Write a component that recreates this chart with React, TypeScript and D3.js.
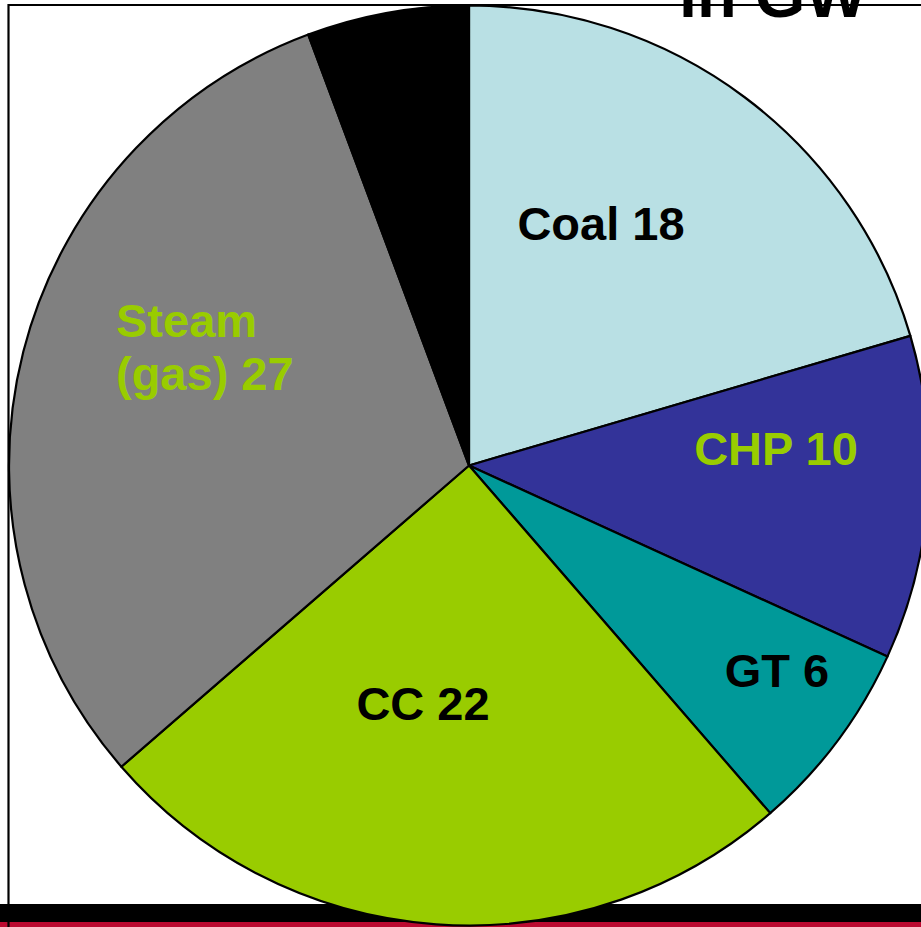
import React, { useEffect } from "react";
import * as d3 from "d3";

const categories = ["Coal", "CHP", "GT", "CC", "Steam (gas)", "Other"];
const values = [18, 10, 6, 22, 27, 5];
const colors = ["#B9E0E4", "#333399", "#009999", "#99CC00", "#808080", "#000000"];
const labelLines = [["Coal 18"], ["CHP 10"], ["GT 6"], ["CC 22"], ["Steam", "(gas) 27"], []];
const labelColors = ["#000000", "#99CC00", "#000000", "#000000", "#99CC00", "#000000"];
const labelPos: [number, number, string][] = [
  [601, 240, "middle"],
  [776, 465, "middle"],
  [777, 687, "middle"],
  [423, 720, "middle"],
  [116, 337, "start"],
  [0, 0, "middle"],
];
const title = "in GW";

export default function App() {
  useEffect(() => {
    document.body.style.margin = "0";
    document.body.style.overflow = "hidden";
  }, []);
  const W = 921, H = 927;
  const cx = 469, cy = 465.5, r = 460;
  const pie = d3.pie<number>().sort(null).value((d) => d);
  const arcs = pie(values);
  const arcGen = d3.arc<d3.PieArcDatum<number>>().innerRadius(0).outerRadius(r);
  const font = "'Liberation Sans', Arial, sans-serif";
  return (
    <svg width={W} height={H} style={{ position: "absolute", left: 0, top: 0, display: "block" }}>
      <rect x={0} y={0} width={W} height={H} fill="#ffffff" />
      <rect x={0} y={904} width={W} height={18} fill="#000000" />
      <rect x={0} y={922} width={W} height={5} fill="#BB0A30" />
      <line x1={8} y1={5} x2={W} y2={5} stroke="#000" strokeWidth={2.2} />
      <line x1={8.5} y1={4} x2={8.5} y2={H} stroke="#000" strokeWidth={2.2} />
      <g transform={`translate(${cx},${cy})`}>
        {arcs.map((a, i) => (
          <path key={categories[i]} d={arcGen(a) || ""} fill={colors[i]} stroke="#000" strokeWidth={2.2} strokeLinejoin="round" />
        ))}
      </g>
      {labelLines.map((lines, i) =>
        lines.length ? (
          <text
            key={"l" + i}
            x={labelPos[i][0]}
            y={labelPos[i][1]}
            textAnchor={labelPos[i][2] as any}
            fontFamily={font}
            fontWeight="bold"
            fontSize={47}
            fill={labelColors[i]}
          >
            {lines.map((ln, j) => (
              <tspan key={j} x={labelPos[i][0]} dy={j === 0 ? 0 : 53}>
                {ln}
              </tspan>
            ))}
          </text>
        ) : null
      )}
      <text x={679} y={17} fontFamily={font} fontWeight="bold" fontSize={65} fill="#000">
        {title}
      </text>
    </svg>
  );
}
